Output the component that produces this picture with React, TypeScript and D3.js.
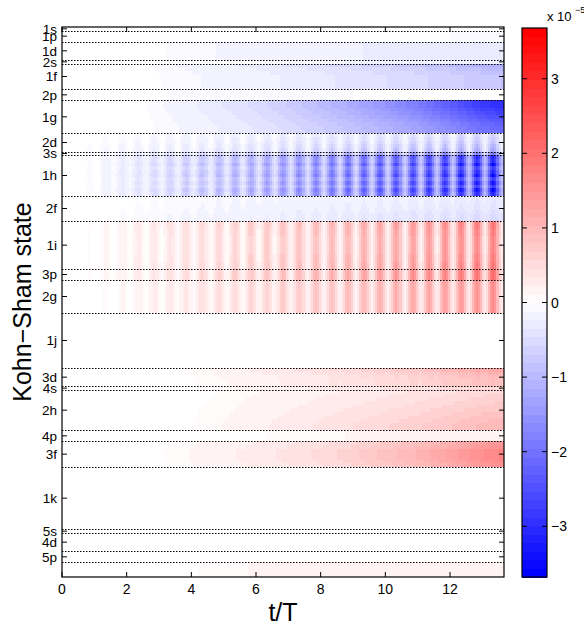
import React, { useMemo } from 'react';
import * as d3 from 'd3';

// ---- Data ----
const SHELLS = ['1s','1p','1d','2s','1f','2p','1g','2d','3s','1h','2f','1i','3p','2g','1j','3d','4s','2h','4p','3f','1k','5s','4d','5p',''];
const DEGENERACY = [1,3,5,1,7,3,9,5,1,11,7,13,3,9,15,5,1,11,3,7,17,1,5,3,4];

// envelope (units of 1e-5) sampled at t/T = 0..14, one list per shell
const ENVELOPE_T = [0,1,2,3,4,5,6,7,8,9,10,11,12,13,14];
const ENV_1s = [0,0,0,0,0,0,0,0,0,0,0,0,0,0,0];
const ENV_1p = [0,0,0,0,0,0,0,0,0,0,-0.03,-0.05,-0.06,-0.08,-0.1];
const ENV_1d = [0,0,0,-0.05,-0.1,-0.12,-0.15,-0.18,-0.2,-0.22,-0.25,-0.27,-0.3,-0.32,-0.34];
const ENV_2s = [0,0,0,0,0,-0.05,-0.05,-0.1,-0.1,-0.12,-0.15,-0.15,-0.2,-0.2,-0.2];
const ENV_1f = [0,0,0,-0.08,-0.15,-0.2,-0.27,-0.35,-0.45,-0.55,-0.65,-0.78,-0.92,-1.08,-1.2];
const ENV_2p = [0,0,0,-0.05,-0.08,-0.1,-0.1,-0.1,-0.08,-0.06,-0.05,-0.03,-0.02,0,0];
const ENV_1g = [0,0,0,-0.1,-0.2,-0.35,-0.5,-0.7,-0.95,-1.2,-1.5,-1.85,-2.3,-2.8,-3.1];
const ENV_2d = [0,-0.1,-0.18,-0.26,-0.34,-0.42,-0.5,-0.6,-0.7,-0.8,-0.9,-1.0,-1.1,-1.25,-1.35];
const ENV_3s = [0,-0.12,-0.25,-0.38,-0.5,-0.62,-0.75,-0.9,-1.05,-1.2,-1.35,-1.5,-1.65,-1.85,-2.0];
const ENV_1h = [0,-0.1,-0.35,-0.6,-0.85,-1.1,-1.35,-1.65,-1.95,-2.25,-2.55,-2.85,-3.15,-3.5,-3.7];
const ENV_2f = [0,-0.03,-0.08,-0.12,-0.16,-0.2,-0.24,-0.28,-0.32,-0.36,-0.4,-0.45,-0.5,-0.55,-0.6];
const ENV_1i = [0,0.08,0.25,0.38,0.5,0.62,0.75,0.88,1.02,1.16,1.32,1.5,1.7,1.95,2.1];
const ENV_3p = [0,0.08,0.25,0.4,0.55,0.68,0.82,0.96,1.12,1.28,1.45,1.65,1.85,2.1,2.25];
const ENV_2g = [0,0.04,0.15,0.28,0.38,0.48,0.6,0.72,0.85,0.98,1.1,1.25,1.4,1.58,1.7];
const ENV_1j = [0,0,0,0,0,0,0,0,0,0,0,0,0,0,0];
const ENV_3d = [0,0,0,0,0.08,0.16,0.25,0.34,0.44,0.55,0.68,0.82,1.0,1.2,1.3];
const ENV_4s = [0,0,0,0,0.05,0.1,0.15,0.2,0.25,0.3,0.35,0.4,0.5,0.55,0.6];
const ENV_2h = [0,0,0,0.02,0.06,0.12,0.2,0.28,0.37,0.46,0.56,0.67,0.8,0.95,1.05];
const ENV_4p = [0,0,0,0,0,0.05,0.05,0.08,0.1,0.12,0.15,0.15,0.18,0.2,0.2];
const ENV_3f = [0,0,0,0.05,0.12,0.2,0.28,0.38,0.5,0.65,0.85,1.05,1.3,1.6,1.85];
const ENV_1k = [0,0,0,0,0,0,0,0,0,0,0,0,0,0,0];
const ENV_5s = [0,0,0,0,0,0,0,0,0,0,0,0,0,0,0];
const ENV_4d = [0,0,0,0,0,0,0,0,0,0,0,0,0,0,0];
const ENV_5p = [0,0,0,0,0,0,0,0,0,0,0,0,0,0,0];
const ENV_REST = [0,0,0,0,0.05,0.1,0.12,0.15,0.15,0.15,0.15,0.15,0.2,0.2,0.2];
const ENVELOPES = [ENV_1s,ENV_1p,ENV_1d,ENV_2s,ENV_1f,ENV_2p,ENV_1g,ENV_2d,ENV_3s,ENV_1h,ENV_2f,ENV_1i,ENV_3p,ENV_2g,ENV_1j,ENV_3d,ENV_4s,ENV_2h,ENV_4p,ENV_3f,ENV_1k,ENV_5s,ENV_4d,ENV_5p,ENV_REST];

// relative strength of each m-row inside a shell (null = uniform)
const ROWS_1f = [1,0.85,0.75,0.7,0.7,0.7,0.7];
const ROWS_1g = [1,1,0.95,0.9,0.85,0.8,0.75,0.72,0.7];
const ROWS_2d = [0.5,0.6,0.7,0.85,1];
const ROWS_1h = [0.9,0.85,1,0.8,0.9,1,0.8,0.95,0.8,1,0.9];
const ROWS_2f = [0.6,0.65,0.7,0.75,0.85,0.95,1];
const ROWS_1i = [1,1,0.95,0.95,0.9,0.9,0.9,0.9,0.9,0.95,0.95,1,1];
const ROWS_3d = [1,0.9,0.8,0.75,0.75];
const ROWS_2h = [0.55,0.6,0.65,0.7,0.75,0.8,0.85,0.9,0.95,1,1];
const ROWS_3f = [0.85,0.9,1,1,1,0.95,0.9];
const ROW_WEIGHTS = [null,null,null,null,ROWS_1f,null,ROWS_1g,ROWS_2d,null,ROWS_1h,ROWS_2f,ROWS_1i,null,null,null,ROWS_3d,null,ROWS_2h,null,ROWS_3f,null,null,null,null,null];

// depth of the half-period stripes per shell
const STRIPE_DEPTH = [0,0,0,0,0,0,0,0.88,0.82,0.75,0.4,0.92,0.9,0.88,0,0.1,0,0,0,0,0,0,0,0,0];
// stripe shape over one half period (from peak)
const STRIPE_PROFILE = [1.0,0.85,0.55,0.25,0.08,0.25,0.55,0.85];
const STRIPE_PEAK_T = 0.33;

const X_TICKS = [0,2,4,6,8,10,12];
const CBAR_TICKS = [-3,-2,-1,0,1,2,3];
const T_MAX = 13.67;
const C_MAX = 3.68;
const DT = 1 / 16;

const FONT = "'Liberation Sans', Arial, Helvetica, sans-serif";

export default function App() {
  const W = 584, H = 635;
  const L = 62, R = 504, T = 27, B = 577;
  const CB_L = 522, CB_R = 547, CB_T = 28, CB_B = 577;

  const nStates = d3.sum(DEGENERACY);
  const x = d3.scaleLinear().domain([0, T_MAX]).range([L, R]);
  const y = d3.scaleLinear().domain([0.5, nStates + 0.5]).range([T, B]);
  const cmap = d3.scaleLinear<string>().domain([0, 0.5, 1]).range(['#0000ff', '#ffffff', '#ff0000']).interpolate(d3.interpolateRgb);
  const colors = d3.range(64).map(i => cmap(i / 63));
  const q = d3.scaleQuantize<number>().domain([-C_MAX, C_MAX]).range(d3.range(64));
  const cbY = d3.scaleLinear().domain([-C_MAX, C_MAX]).range([CB_B, CB_T]);

  const starts: number[] = [];
  let acc = 1;
  DEGENERACY.forEach(d => { starts.push(acc); acc += d; });

  const cells = useMemo(() => {
    const out: { x: number; y: number; w: number; h: number; c: string }[] = [];
    const nCols = Math.ceil(T_MAX / DT);
    SHELLS.forEach((_, s) => {
      const env = d3.scaleLinear().domain(ENVELOPE_T).range(ENVELOPES[s]).clamp(true);
      const depth = STRIPE_DEPTH[s];
      for (let j = 0; j < DEGENERACY[s]; j++) {
        const state = starts[s] + j;
        const wgt = ROW_WEIGHTS[s] ? (ROW_WEIGHTS[s] as number[])[j] : 1;
        const y0 = Math.round(y(state - 0.5));
        const y1 = Math.round(y(state + 0.5));
        let runStart = -1, runIdx = -1;
        const flush = (end: number) => {
          if (runStart >= 0 && runIdx >= 0) {
            const x0 = Math.round(x(runStart * DT));
            const x1 = Math.round(x(Math.min(end * DT, T_MAX)));
            out.push({ x: x0, y: y0, w: x1 - x0, h: y1 - y0, c: colors[runIdx] });
          }
        };
        for (let c = 0; c < nCols; c++) {
          const t = (c + 0.5) * DT;
          const ph = ((((t - STRIPE_PEAK_T) / 0.5) % 1) + 1) % 1;
          const k = Math.round(ph * 8) % 8;
          const mod = 1 - depth * (1 - STRIPE_PROFILE[k]);
          const v = env(t) * wgt * mod;
          const idx = Math.abs(v) < 0.06 ? -1 : (q(v) as number);
          if (idx !== runIdx) {
            flush(c);
            runStart = c;
            runIdx = idx;
          }
        }
        flush(nCols);
      }
    });
    return out;
  }, []);

  const labeled = SHELLS.map((n, s) => ({ n, s })).filter(d => d.n !== '');

  return (
    <svg width={W} height={H} style={{ position: 'absolute', left: 0, top: 0, background: '#fff' }} fontFamily={FONT}>
      <rect x={0} y={0} width={W} height={H} fill="#fff" />
      {/* heatmap */}
      <g shapeRendering="crispEdges">
        {cells.map((d, i) => (
          <rect key={i} x={d.x} y={d.y} width={d.w} height={d.h} fill={d.c} />
        ))}
      </g>
      {/* shell boundary dotted lines */}
      {labeled.map(({ s }) => {
        const yy = Math.round(y(starts[s] + DEGENERACY[s] - 0.5)) + 0.5;
        return <line key={'b' + s} x1={L} x2={R} y1={yy} y2={yy} stroke="#000" strokeWidth={1} strokeDasharray="1.5,1.5" />;
      })}
      {/* axes box */}
      <rect x={L} y={T} width={R - L} height={B - T} fill="none" stroke="#000" strokeWidth={1.2} />
      {/* x ticks */}
      {X_TICKS.map(v => (
        <g key={'x' + v}>
          <line x1={x(v)} x2={x(v)} y1={B} y2={B - 5} stroke="#000" />
          <line x1={x(v)} x2={x(v)} y1={T} y2={T + 5} stroke="#000" />
          <text x={x(v)} y={594} fontSize={14} textAnchor="middle" fill="#000">{v}</text>
        </g>
      ))}
      {/* y ticks */}
      {labeled.map(({ n, s }) => {
        const yc = y(starts[s] + (DEGENERACY[s] - 1) / 2);
        return (
          <g key={'y' + s}>
            <line x1={L} x2={L + 5} y1={yc} y2={yc} stroke="#000" />
            <line x1={R} x2={R - 5} y1={yc} y2={yc} stroke="#000" />
            <text x={57} y={yc} dy="0.36em" fontSize={13.5} textAnchor="end" fill="#000">{n}</text>
          </g>
        );
      })}
      {/* axis labels */}
      <text x={283} y={621} fontSize={25} textAnchor="middle" fill="#000">t/T</text>
      <text x={31} y={302} fontSize={25} textAnchor="middle" fill="#000" transform="rotate(-90, 31, 302)">Kohn−Sham state</text>
      {/* colorbar */}
      <g shapeRendering="crispEdges">
        {colors.map((c, i) => {
          const v0 = -C_MAX + (i * 2 * C_MAX) / 64;
          const v1 = -C_MAX + ((i + 1) * 2 * C_MAX) / 64;
          return <rect key={'c' + i} x={CB_L} y={cbY(v1)} width={CB_R - CB_L} height={cbY(v0) - cbY(v1) + 0.6} fill={c} />;
        })}
      </g>
      <rect x={CB_L} y={CB_T} width={CB_R - CB_L} height={CB_B - CB_T} fill="none" stroke="#000" strokeWidth={1.2} />
      {CBAR_TICKS.map(v => (
        <g key={'cb' + v}>
          <line x1={CB_L} x2={CB_L + 5} y1={cbY(v)} y2={cbY(v)} stroke="#000" />
          <line x1={CB_R} x2={CB_R - 5} y1={cbY(v)} y2={cbY(v)} stroke="#000" />
          <text x={551} y={cbY(v)} dy="0.36em" fontSize={14} fill="#000">{v < 0 ? '−' + Math.abs(v) : v}</text>
        </g>
      ))}
      <text x={547} y={21} fontSize={13} fill="#000">x 10</text>
      <text x={575} y={13} fontSize={9} fill="#000">−5</text>
    </svg>
  );
}
